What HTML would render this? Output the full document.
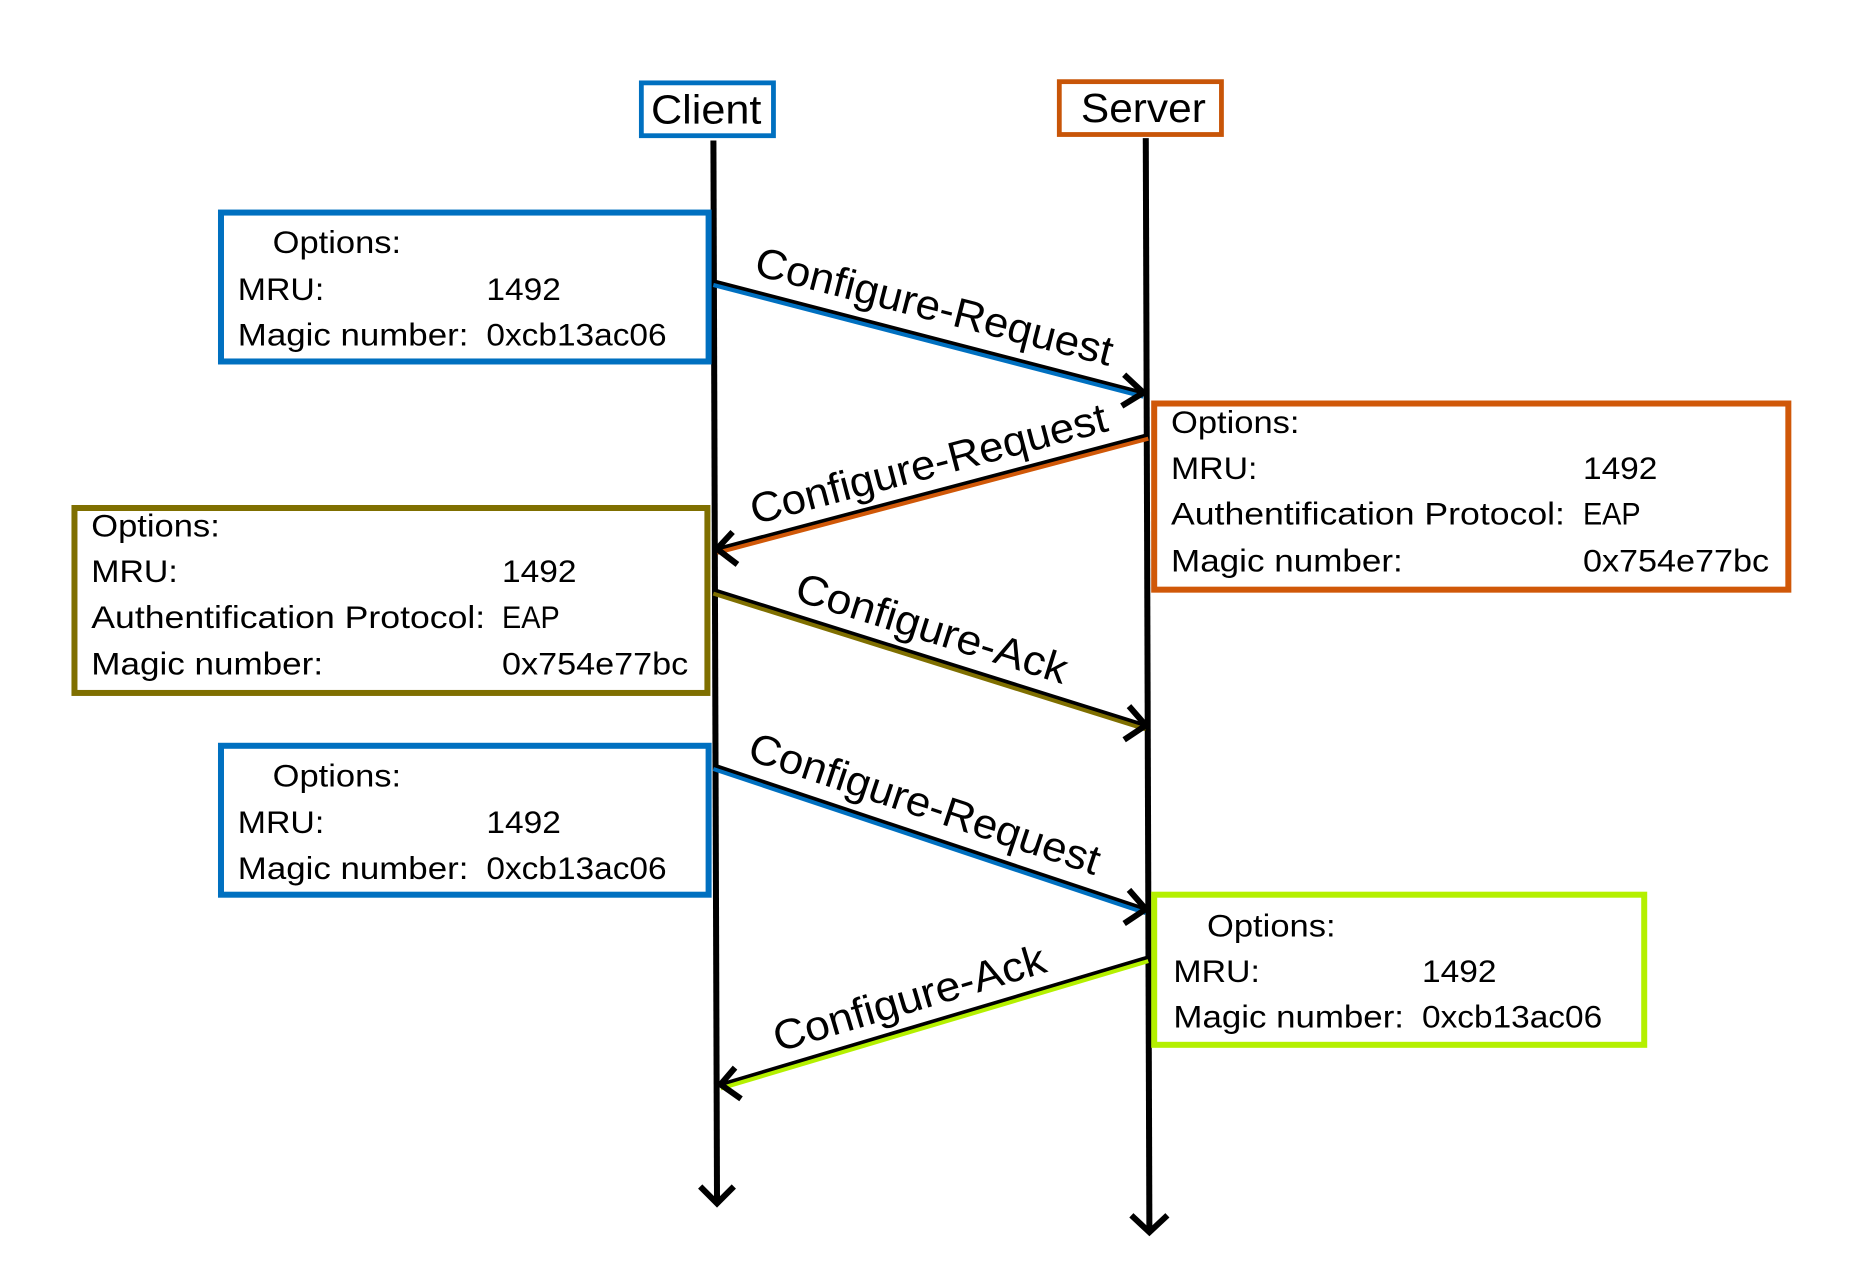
<!DOCTYPE html>
<html><head><meta charset="utf-8"><style>
html,body{margin:0;padding:0;background:#fff;}
svg{display:block;}
text{font-family:"Liberation Sans",sans-serif;fill:#000;}
.t{font-size:26px;dominant-baseline:central;}
.l{font-size:35px;dominant-baseline:central;text-anchor:middle;}
</style></head><body>
<svg width="1864" height="1279" viewBox="0 0 1552 1065" preserveAspectRatio="none" xmlns="http://www.w3.org/2000/svg">
<rect width="1552" height="1065" fill="#fff"/>
<rect x="534" y="69" width="110" height="44" fill="none" stroke="#0070c0" stroke-width="4"/>
<text x="588" y="91" class="l" style="font-size:34px" textLength="92" lengthAdjust="spacingAndGlyphs">Client</text>
<rect x="882" y="68" width="135" height="44" fill="none" stroke="#c85508" stroke-width="4"/>
<text x="952" y="90" class="l" style="font-size:34px" textLength="104" lengthAdjust="spacingAndGlyphs">Server</text>
<line x1="594" y1="117" x2="597" y2="1001" stroke="#000" stroke-width="5"/>
<polyline points="583,988 597,1002 611,988" fill="none" stroke="#000" stroke-width="5"/>
<line x1="954" y1="115" x2="957" y2="1025" stroke="#000" stroke-width="5"/>
<polyline points="942,1012 957,1026 972,1012" fill="none" stroke="#000" stroke-width="5"/>

<rect x="184" y="177" width="406" height="124" fill="#fff" stroke="#0070c0" stroke-width="5"/>
<text x="227" y="202" class="t" textLength="107" lengthAdjust="spacingAndGlyphs">Options:</text>
<text x="198" y="241" class="t" textLength="72" lengthAdjust="spacingAndGlyphs">MRU:</text><text x="405" y="241" class="t" textLength="62" lengthAdjust="spacingAndGlyphs">1492</text>
<text x="198" y="279" class="t" textLength="192" lengthAdjust="spacingAndGlyphs">Magic number:</text><text x="405" y="279" class="t" textLength="150" lengthAdjust="spacingAndGlyphs">0xcb13ac06</text>
<line x1="594" y1="237" x2="952" y2="330" stroke="#0070c0" stroke-width="4"/>
<line x1="594" y1="234" x2="952" y2="327" stroke="#000" stroke-width="3"/>
<polyline points="936,312 952,327 934,338" fill="none" stroke="#000" stroke-width="5"/>
<text class="l" transform="translate(778,255) rotate(14.4)" textLength="306" lengthAdjust="spacingAndGlyphs">Configure-Request</text>

<rect x="961" y="336" width="528" height="155" fill="#fff" stroke="#d05808" stroke-width="5"/>
<text x="975" y="352" class="t" textLength="107" lengthAdjust="spacingAndGlyphs">Options:</text>
<text x="975" y="390" class="t" textLength="72" lengthAdjust="spacingAndGlyphs">MRU:</text><text x="1318" y="390" class="t" textLength="62" lengthAdjust="spacingAndGlyphs">1492</text>
<text x="975" y="428" class="t" textLength="328" lengthAdjust="spacingAndGlyphs">Authentification Protocol:</text><text x="1318" y="428" class="t" textLength="48" lengthAdjust="spacingAndGlyphs">EAP</text>
<text x="975" y="467" class="t" textLength="193" lengthAdjust="spacingAndGlyphs">Magic number:</text><text x="1318" y="467" class="t" textLength="155" lengthAdjust="spacingAndGlyphs">0x754e77bc</text>
<line x1="956" y1="365" x2="597" y2="460" stroke="#d05808" stroke-width="4"/>
<line x1="956" y1="362" x2="597" y2="457" stroke="#000" stroke-width="3"/>
<polyline points="610,443 597,457 614,470" fill="none" stroke="#000" stroke-width="5"/>
<text class="l" transform="translate(773,386) rotate(-14.8)" textLength="306" lengthAdjust="spacingAndGlyphs">Configure-Request</text>

<rect x="62" y="423" width="527" height="154" fill="#fff" stroke="#7f6f00" stroke-width="5"/>
<text x="76" y="438" class="t" textLength="107" lengthAdjust="spacingAndGlyphs">Options:</text>
<text x="76" y="476" class="t" textLength="72" lengthAdjust="spacingAndGlyphs">MRU:</text><text x="418" y="476" class="t" textLength="62" lengthAdjust="spacingAndGlyphs">1492</text>
<text x="76" y="514" class="t" textLength="328" lengthAdjust="spacingAndGlyphs">Authentification Protocol:</text><text x="418" y="514" class="t" textLength="48" lengthAdjust="spacingAndGlyphs">EAP</text>
<text x="76" y="553" class="t" textLength="193" lengthAdjust="spacingAndGlyphs">Magic number:</text><text x="418" y="553" class="t" textLength="155" lengthAdjust="spacingAndGlyphs">0x754e77bc</text>
<line x1="594" y1="494" x2="954" y2="607" stroke="#7f6f00" stroke-width="4"/>
<line x1="594" y1="491" x2="954" y2="604" stroke="#000" stroke-width="3"/>
<polyline points="940,588 954,604 936,616" fill="none" stroke="#000" stroke-width="5"/>
<text class="l" transform="translate(776,523) rotate(17.4)" textLength="235" lengthAdjust="spacingAndGlyphs">Configure-Ack</text>

<rect x="184" y="621" width="406" height="124" fill="#fff" stroke="#0070c0" stroke-width="5"/>
<text x="227" y="646" class="t" textLength="107" lengthAdjust="spacingAndGlyphs">Options:</text>
<text x="198" y="685" class="t" textLength="72" lengthAdjust="spacingAndGlyphs">MRU:</text><text x="405" y="685" class="t" textLength="62" lengthAdjust="spacingAndGlyphs">1492</text>
<text x="198" y="723" class="t" textLength="192" lengthAdjust="spacingAndGlyphs">Magic number:</text><text x="405" y="723" class="t" textLength="150" lengthAdjust="spacingAndGlyphs">0xcb13ac06</text>
<line x1="594" y1="640" x2="954" y2="760" stroke="#0070c0" stroke-width="4"/>
<line x1="594" y1="637" x2="954" y2="757" stroke="#000" stroke-width="3"/>
<polyline points="940,741 954,757 936,769" fill="none" stroke="#000" stroke-width="5"/>
<text class="l" transform="translate(770,669) rotate(18.4)" textLength="306" lengthAdjust="spacingAndGlyphs">Configure-Request</text>

<rect x="961" y="745" width="408" height="125" fill="#fff" stroke="#b4f000" stroke-width="5"/>
<text x="1005" y="771" class="t" textLength="107" lengthAdjust="spacingAndGlyphs">Options:</text>
<text x="977" y="809" class="t" textLength="72" lengthAdjust="spacingAndGlyphs">MRU:</text><text x="1184" y="809" class="t" textLength="62" lengthAdjust="spacingAndGlyphs">1492</text>
<text x="977" y="847" class="t" textLength="192" lengthAdjust="spacingAndGlyphs">Magic number:</text><text x="1184" y="847" class="t" textLength="150" lengthAdjust="spacingAndGlyphs">0xcb13ac06</text>
<line x1="956" y1="800" x2="600" y2="906" stroke="#b4f000" stroke-width="4"/>
<line x1="956" y1="797" x2="600" y2="903" stroke="#000" stroke-width="3"/>
<polyline points="612,889 600,903 617,915" fill="none" stroke="#000" stroke-width="5"/>
<text class="l" transform="translate(757,831) rotate(-16.6)" textLength="235" lengthAdjust="spacingAndGlyphs">Configure-Ack</text>
</svg>
</body></html>
